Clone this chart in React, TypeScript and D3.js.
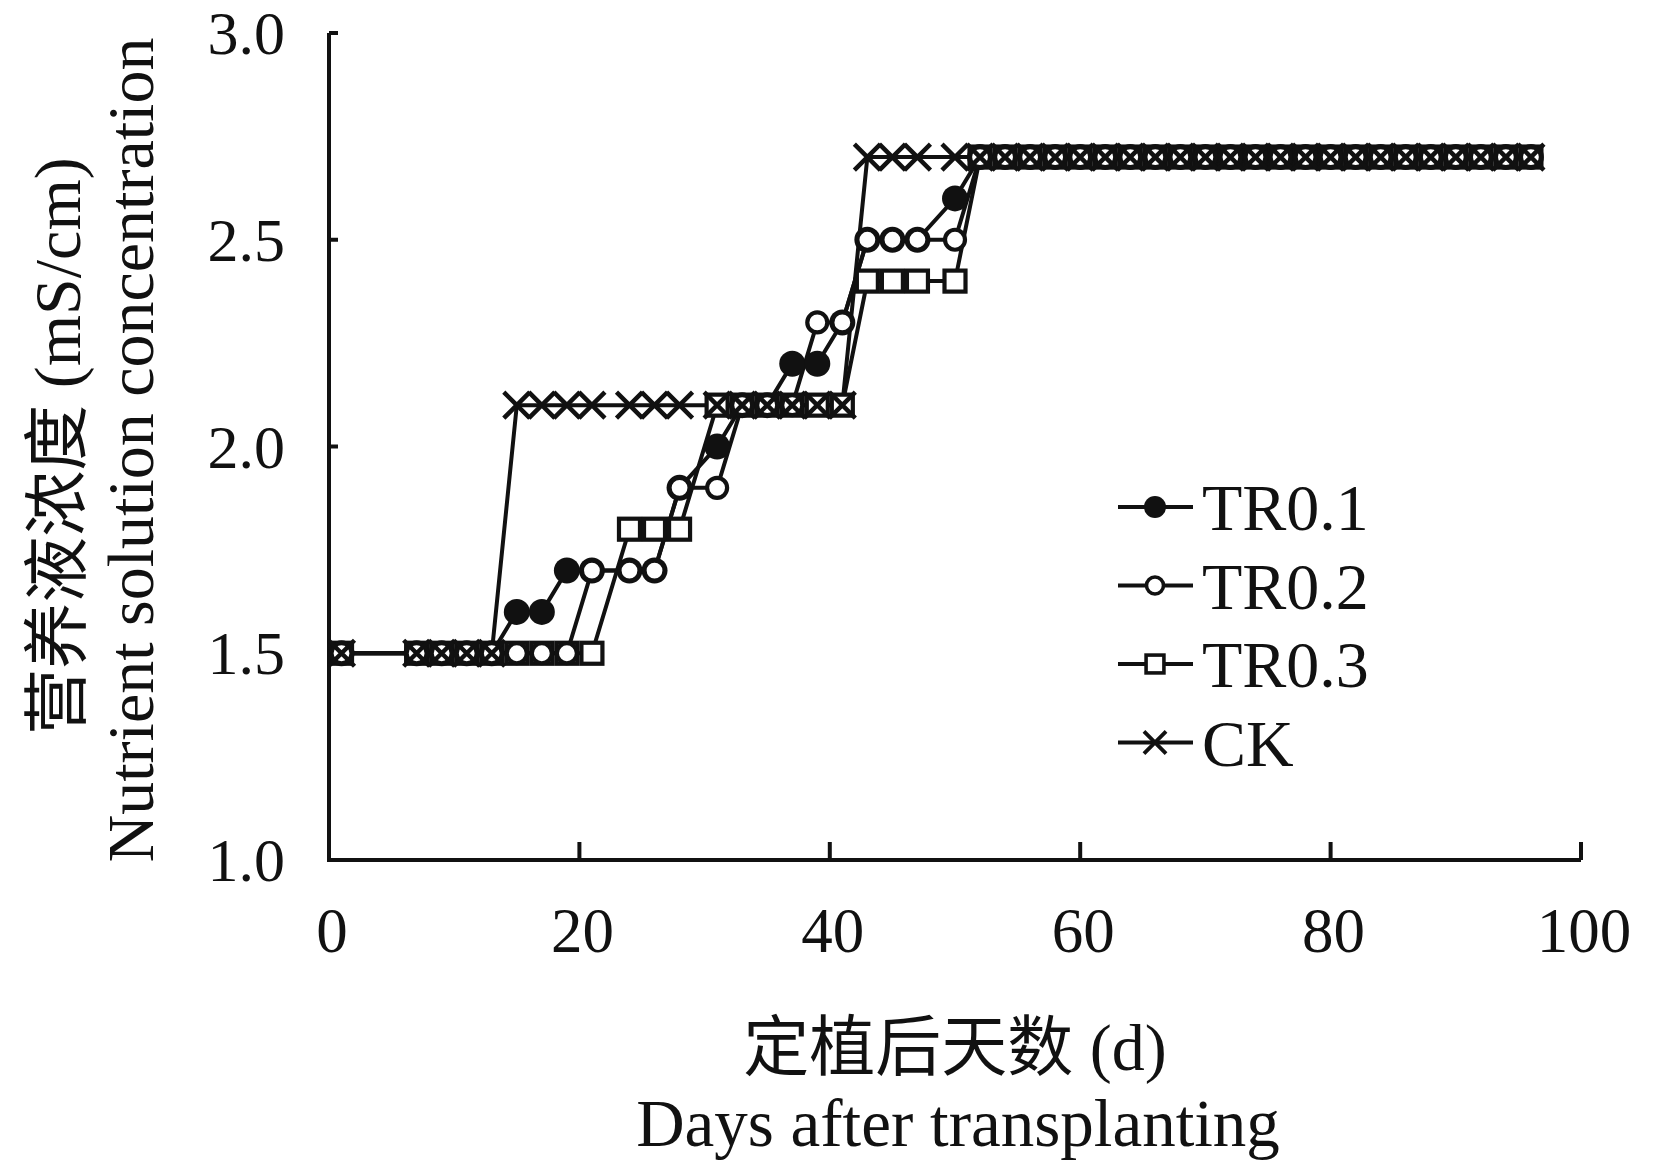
import * as d3 from 'd3';

// sampling days (days after transplanting)
const days = [1, 7, 9, 11, 13, 15, 17, 19, 21, 24, 26, 28, 31, 33, 35, 37, 39, 41, 43, 45, 47, 50,
    52, 54, 56, 58, 60, 62, 64, 66, 68, 70, 72, 74, 76, 78, 80, 82, 84, 86, 88, 90, 92, 94, 96];

const tr01 = [1.5, 1.5, 1.5, 1.5, 1.5, 1.6, 1.6, 1.7, 1.7, 1.7, 1.7, 1.9, 2.0, 2.1, 2.1, 2.2, 2.2, 2.3, 2.5, 2.5, 2.5, 2.6,
    2.7, 2.7, 2.7, 2.7, 2.7, 2.7, 2.7, 2.7, 2.7, 2.7, 2.7, 2.7, 2.7, 2.7, 2.7, 2.7, 2.7, 2.7, 2.7, 2.7, 2.7, 2.7, 2.7];
const tr02 = [1.5, 1.5, 1.5, 1.5, 1.5, 1.5, 1.5, 1.5, 1.7, 1.7, 1.7, 1.9, 1.9, 2.1, 2.1, 2.1, 2.3, 2.3, 2.5, 2.5, 2.5, 2.5,
    2.7, 2.7, 2.7, 2.7, 2.7, 2.7, 2.7, 2.7, 2.7, 2.7, 2.7, 2.7, 2.7, 2.7, 2.7, 2.7, 2.7, 2.7, 2.7, 2.7, 2.7, 2.7, 2.7];
const tr03 = [1.5, 1.5, 1.5, 1.5, 1.5, 1.5, 1.5, 1.5, 1.5, 1.8, 1.8, 1.8, 2.1, 2.1, 2.1, 2.1, 2.1, 2.1, 2.4, 2.4, 2.4, 2.4,
    2.7, 2.7, 2.7, 2.7, 2.7, 2.7, 2.7, 2.7, 2.7, 2.7, 2.7, 2.7, 2.7, 2.7, 2.7, 2.7, 2.7, 2.7, 2.7, 2.7, 2.7, 2.7, 2.7];
const ck = [1.5, 1.5, 1.5, 1.5, 1.5, 2.1, 2.1, 2.1, 2.1, 2.1, 2.1, 2.1, 2.1, 2.1, 2.1, 2.1, 2.1, 2.1, 2.7, 2.7, 2.7, 2.7,
    2.7, 2.7, 2.7, 2.7, 2.7, 2.7, 2.7, 2.7, 2.7, 2.7, 2.7, 2.7, 2.7, 2.7, 2.7, 2.7, 2.7, 2.7, 2.7, 2.7, 2.7, 2.7, 2.7];

const seriesNames = ['TR0.1', 'TR0.2', 'TR0.3', 'CK'];
const xTicks = [0, 20, 40, 60, 80, 100];
const yTicks = [1.0, 1.5, 2.0, 2.5, 3.0];

const W = 1654;
const H = 1160;
const left = 329, right = 1581, top = 33, bottom = 860;
const serif = '"Liberation Serif", "Times New Roman", "Noto Sans CJK SC", serif';

const x = d3.scaleLinear().domain([0, 100]).range([left, right]);
const y = d3.scaleLinear().domain([1, 3]).range([bottom, top]);

type Kind = 'filled' | 'open' | 'square' | 'cross';

const Marker = ({ kind, cx, cy, s = 1 }: { kind: Kind; cx: number; cy: number; s?: number }) => {
    if (kind === 'filled') return <circle cx={cx} cy={cy} r={13 * s} fill="#111" />;
    if (kind === 'open') return <circle cx={cx} cy={cy} r={10 * s} fill="#fff" stroke="#111" strokeWidth={4.2 * s} />;
    if (kind === 'square') {
        const h = 10.5 * s;
        return <rect x={cx - h} y={cy - h} width={2 * h} height={2 * h} fill="#fff" stroke="#111" strokeWidth={4.2 * s} />;
    }
    const h = 13 * s;
    return (
        <path d={`M${cx - h},${cy - h}L${cx + h},${cy + h}M${cx - h},${cy + h}L${cx + h},${cy - h}`}
            stroke="#111" strokeWidth={4.5 * s} fill="none" />
    );
};

const App = () => {
    const series: { name: string; values: number[]; kind: Kind }[] = [
        { name: seriesNames[0], values: tr01, kind: 'filled' },
        { name: seriesNames[1], values: tr02, kind: 'open' },
        { name: seriesNames[2], values: tr03, kind: 'square' },
        { name: seriesNames[3], values: ck, kind: 'cross' },
    ];
    const line = d3.line<number>().x((_, i) => x(days[i])).y(v => y(v));
    // marker drawing order so that overlaps look like the original
    const markerOrder = [2, 0, 1, 3];

    return (
        <svg width={W} height={H} style={{ position: 'absolute', left: 0, top: 0, background: '#fff' }}
            fontFamily={serif}>
            <rect width={W} height={H} fill="#fff" />

            {/* axes */}
            <path d={`M${left},${top}V${bottom}H${right}`} stroke="#111" strokeWidth={4} fill="none" />
            {yTicks.map(t => (
                <g key={'y' + t}>
                    <line x1={left} x2={left + 9} y1={y(t)} y2={y(t)} stroke="#111" strokeWidth={4} />
                    <text x={285} y={y(t) + 21} fontSize={62} textAnchor="end" fill="#111">{t.toFixed(1)}</text>
                </g>
            ))}
            {xTicks.map(t => (
                <g key={'x' + t}>
                    <line x1={x(t)} x2={x(t)} y1={bottom} y2={bottom - 18} stroke="#111" strokeWidth={4} />
                    <text x={x(t) + 3} y={952} fontSize={63} textAnchor="middle" fill="#111">{t}</text>
                </g>
            ))}

            {/* lines */}
            {series.map(s => (
                <path key={'l' + s.name} d={line(s.values) || ''} stroke="#111" strokeWidth={4} fill="none" />
            ))}

            {/* markers */}
            {markerOrder.map(k => (
                <g key={'m' + series[k].name}>
                    {series[k].values.map((v, i) => (
                        <Marker key={i} kind={series[k].kind} cx={x(days[i])} cy={y(v)} />
                    ))}
                </g>
            ))}

            {/* legend */}
            {series.map((s, i) => {
                const cy = 507 + i * 78.5;
                return (
                    <g key={'lg' + s.name}>
                        <line x1={1118} x2={1193} y1={cy} y2={cy} stroke="#111" strokeWidth={4} />
                        <Marker kind={s.kind} cx={1155} cy={cy} s={0.85} />
                        <text x={1202} y={cy + 23} fontSize={66} fill="#111">{s.name}</text>
                    </g>
                );
            })}

            {/* axis titles */}
            <text transform="translate(80,446) rotate(-90)" fontSize={66} textAnchor="middle" fill="#111">
                营养液浓度 (mS/cm)
            </text>
            <text transform="translate(153,450) rotate(-90)" fontSize={66} textAnchor="middle" fill="#111">
                Nutrient solution concentration
            </text>
            <text x={955} y={1070} fontSize={66} textAnchor="middle" fill="#111">定植后天数 (d)</text>
            <text x={958} y={1146} fontSize={67} textAnchor="middle" fill="#111">Days after transplanting</text>
        </svg>
    );
};

export default App;
